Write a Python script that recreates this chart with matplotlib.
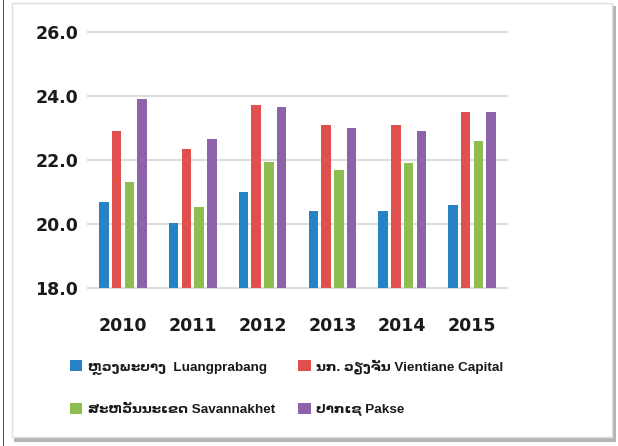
import matplotlib
matplotlib.use("Agg")
import matplotlib.pyplot as plt
from matplotlib.patches import Rectangle
import numpy as np

plt.rcParams['font.family'] = ['Liberation Sans', 'DejaVu Sans']

years = ['2010', '2011', '2012', '2013', '2014', '2015']
luangprabang = [20.7, 20.05, 21.0, 20.4, 20.4, 20.6]
vientiane = [22.9, 22.35, 23.7, 23.1, 23.1, 23.5]
savannakhet = [21.3, 20.55, 21.95, 21.7, 21.9, 22.6]
pakse = [23.9, 22.65, 23.65, 23.0, 22.9, 23.5]

series = [
    ('ຫຼວງພະບາງ  Luangprabang', luangprabang, '#2684c6'),
    ('ນກ. ວຽງຈັນ Vientiane Capital', vientiane, '#e0504e'),
    ('ສະຫວັນນະເຂດ Savannakhet', savannakhet, '#8fbe50'),
    ('ປາກເຊ Pakse', pakse, '#8c62a8'),
]
yticks = [18.0, 20.0, 22.0, 24.0, 26.0]

W, H = 618, 446
fig = plt.figure(figsize=(W / 100, H / 100), dpi=100)

# frame decorations
fig.patches.append(Rectangle((3 / W, 0), 1.5 / W, 1, transform=fig.transFigure,
                             facecolor='#555555', edgecolor='none', zorder=-10))
fig.patches.append(Rectangle((14 / W, 1 - 442 / H), 602 / W, 436 / H, transform=fig.transFigure,
                             facecolor='#b5b5b5', edgecolor='none', zorder=-10))
fig.patches.append(Rectangle((12 / W, 1 - 437 / H), 600 / W, 434 / H, transform=fig.transFigure,
                             facecolor='white', edgecolor='#e0e0e0', linewidth=1.0, zorder=-9))

ax = fig.add_axes([88 / W, 1 - 288.3 / H, 419 / W, 256.6 / H])
ax.set_facecolor('none')

x = np.arange(len(years))
pitch = 0.182
width = 0.136
handles = []
for i, (label, vals, color) in enumerate(series):
    b = ax.bar(x + (i - 1.5) * pitch, np.array(vals) - 18.0, width, bottom=18.0,
               color=color, label=label, zorder=3)
    handles.append(b)

ax.set_xlim(-0.5, len(years) - 0.5)
ax.set_ylim(18, 26)
ax.set_yticks(yticks)
ax.set_yticklabels([f'{v:.1f}' for v in yticks])
ax.set_xticks(x)
ax.set_xticklabels(years)
for s in ax.spines.values():
    s.set_visible(False)
ax.grid(axis='y', color='#dedede', linewidth=1.5, zorder=0)
for yl in ax.get_ygridlines():
    yl.set_clip_on(False)
ax.tick_params(axis='both', length=0, labelsize=12.5, colors='#1a1a1a')
ax.tick_params(axis='y', pad=7)
ax.tick_params(axis='x', pad=21)
for t in ax.get_xticklabels() + ax.get_yticklabels():
    t.set_fontweight('bold')
    t.set_fontfamily(['DejaVu Sans'])

order = [0, 2, 1, 3]
leg = fig.legend([handles[i] for i in order], [series[i][0] for i in order],
                 ncol=2, loc='upper left', bbox_to_anchor=(58 / W, 1 - 347 / H),
                 frameon=False, handlelength=0.9, handleheight=0.9,
                 handletextpad=0.4, labelspacing=2.15, columnspacing=1.75,
                 prop={'weight': 'bold', 'size': 9.7})
for t in leg.get_texts():
    t.set_color('#1a1a1a')

fig.savefig('out.png', dpi=100)
